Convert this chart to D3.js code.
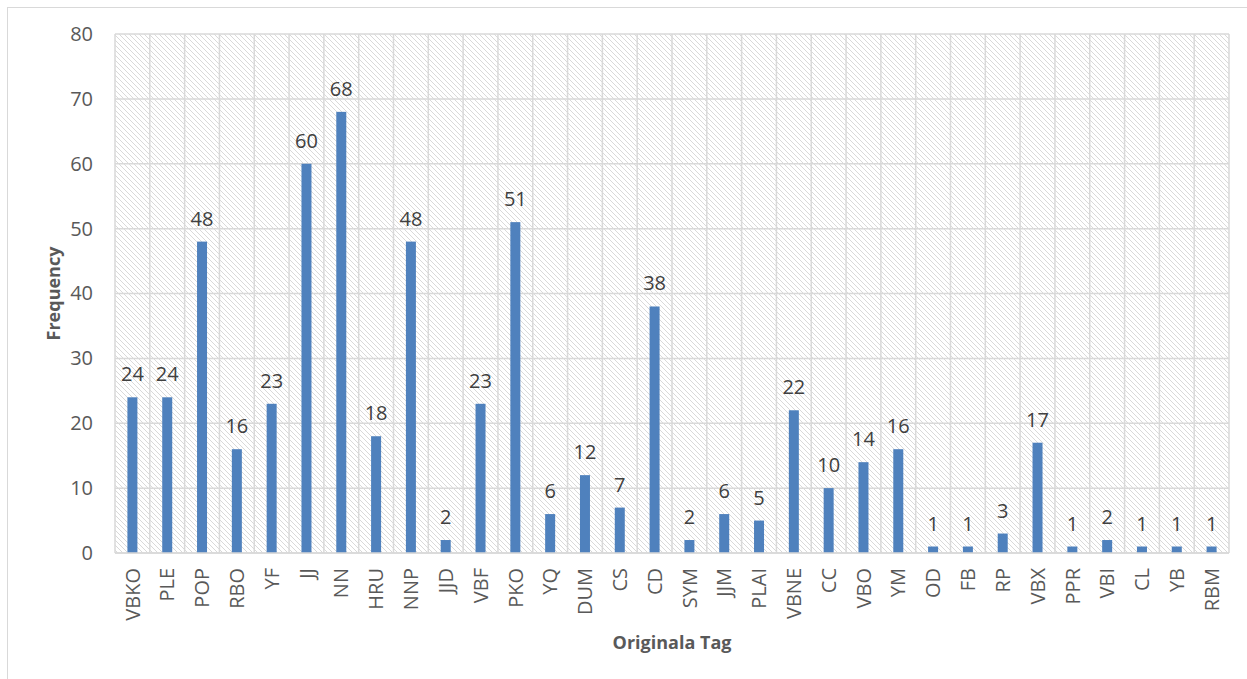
<!DOCTYPE html>
<html><head><meta charset="utf-8">
<script src="https://cdn.jsdelivr.net/npm/d3@7"></script>
<style>body{margin:0;background:#fff;}svg{display:block;font-family:"Open Sans","Liberation Sans",sans-serif;}</style>
</head><body>
<svg id="c" width="1247" height="679"></svg>
<script>
const categories = ["VBKO","PLE","POP","RBO","YF","JJ","NN","HRU","NNP","JJD","VBF","PKO","YQ","DUM","CS","CD","SYM","JJM","PLAI","VBNE","CC","VBO","YM","OD","FB","RP","VBX","PPR","VBI","CL","YB","RBM"];
const values = [24,24,48,16,23,60,68,18,48,2,23,51,6,12,7,38,2,6,5,22,10,14,16,1,1,3,17,1,2,1,1,1];
const yTicks = [0,10,20,30,40,50,60,70,80];
const xTitle = "Originala Tag", yTitle = "Frequency";

const svg = d3.select("#c");
const m = {l:115, r:1229, t:34, b:553};
const defs = svg.append("defs");
const pat = defs.append("pattern").attr("id","hatch").attr("patternUnits","userSpaceOnUse")
  .attr("width",5).attr("height",5);
pat.append("rect").attr("width",5).attr("height",5).attr("fill","#fff");
pat.append("path").attr("d","M-1,-1 L6,6 M-1,4 L1,6 M4,-1 L6,1").attr("stroke","#d9d9d9").attr("stroke-width",1);

svg.append("rect").attr("x",7.5).attr("y",7.5).attr("width",1260).attr("height",700).attr("fill","#fff").attr("stroke","#d9d9d9");

const x = d3.scaleBand().domain(categories).range([m.l,m.r]).paddingInner(0).paddingOuter(0);
const y = d3.scaleLinear().domain([0,80]).range([m.b,m.t]);

svg.append("rect").attr("x",m.l).attr("y",m.t).attr("width",m.r-m.l).attr("height",m.b-m.t).attr("fill","url(#hatch)");

svg.append("g").selectAll("line").data(yTicks).join("line")
  .attr("x1",m.l).attr("x2",m.r).attr("y1",d=>y(d)).attr("y2",d=>y(d))
  .attr("stroke","#d9d9d9").attr("stroke-width",1.5);
const bounds = categories.map(c=>x(c)).concat([m.r]);
svg.append("g").selectAll("line").data(bounds).join("line")
  .attr("x1",d=>d).attr("x2",d=>d).attr("y1",m.t).attr("y2",m.b)
  .attr("stroke","#d9d9d9").attr("stroke-width",1.5);

const bw = 10;
svg.append("g").selectAll("rect").data(values).join("rect")
  .attr("x",(d,i)=>x(categories[i])+x.bandwidth()/2-bw/2)
  .attr("y",d=>y(d)).attr("width",bw).attr("height",d=>y(0)-y(d))
  .attr("fill","#4f81bd");

svg.append("g").selectAll("text").data(values).join("text")
  .attr("x",(d,i)=>x(categories[i])+x.bandwidth()/2)
  .attr("y",d=>y(d)-16).attr("text-anchor","middle")
  .attr("font-size",20).attr("fill","#404040").text(d=>d);

svg.append("line").attr("x1",m.l).attr("x2",m.r).attr("y1",m.b).attr("y2",m.b).attr("stroke","#d9d9d9").attr("stroke-width",1.5);

const ya = d3.axisLeft(y).tickValues(yTicks).tickSize(0).tickPadding(22);
const yg = svg.append("g").attr("transform",`translate(${m.l},0)`).call(ya);
yg.select(".domain").remove();
yg.selectAll("text").attr("font-size",20).attr("fill","#595959").attr("font-family","'Open Sans',sans-serif");

const xa = d3.axisBottom(x).tickSize(0);
const xg = svg.append("g").attr("transform",`translate(0,${m.b})`).call(xa);
xg.select(".domain").remove();
xg.selectAll("text").attr("font-size",20).attr("fill","#595959").attr("font-family","'Open Sans',sans-serif")
  .attr("text-anchor","end").attr("dy","0.36em")
  .attr("transform","translate(0,15) rotate(-90)").attr("x",0).attr("y",0);

svg.append("text").attr("x",(m.l+m.r)/2).attr("y",649).attr("text-anchor","middle")
  .attr("font-size",18).attr("font-weight","bold").attr("fill","#595959").text(xTitle);
svg.append("text").attr("transform",`translate(60,${(m.t+m.b)/2}) rotate(-90)`).attr("text-anchor","middle")
  .attr("font-size",18).attr("font-weight","bold").attr("fill","#595959").text(yTitle);
</script>
</body></html>
